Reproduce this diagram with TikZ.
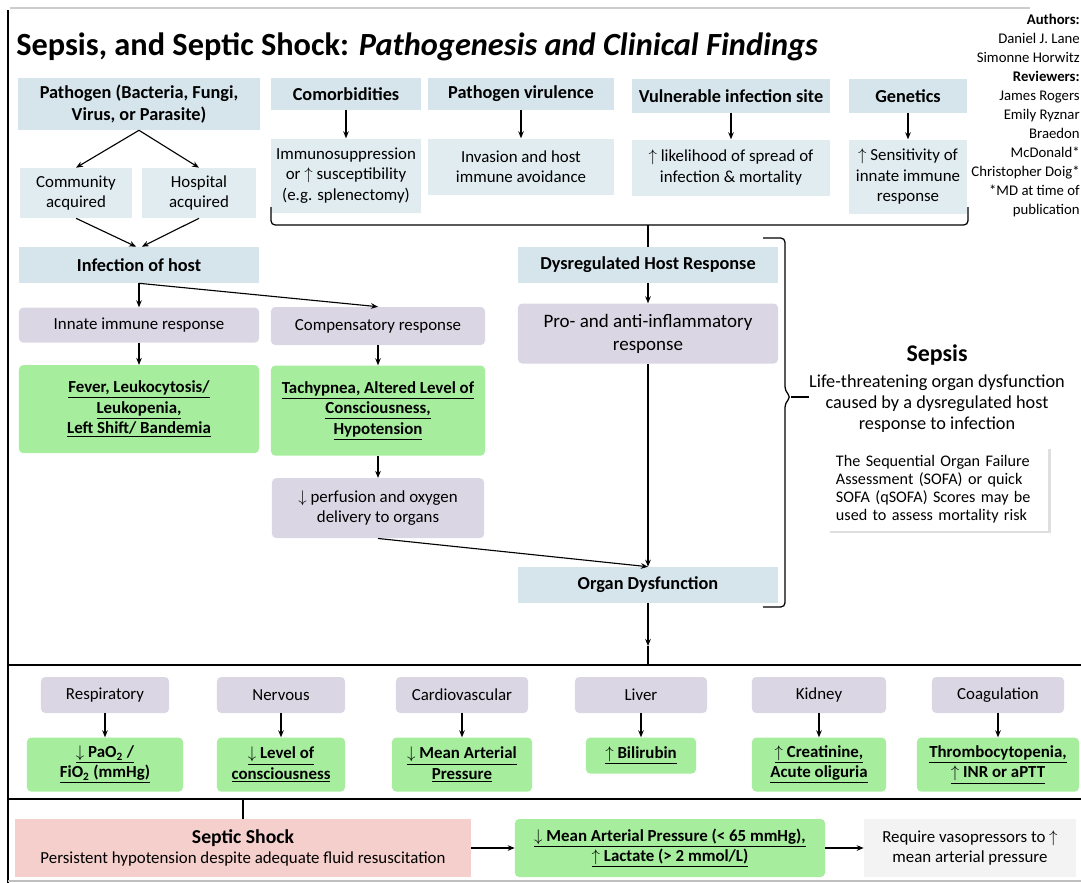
\documentclass[tikz,border=0pt]{standalone}
\usepackage{fontspec}
\setmainfont{Carlito}
\usepackage{xcolor}
\usepackage{tikz}
\usetikzlibrary{arrows.meta,positioning,shadows}
\definecolor{spblue}{RGB}{214,229,236}
\definecolor{spblue2}{RGB}{225,236,241}
\definecolor{splav}{RGB}{219,214,228}
\definecolor{spgreen}{RGB}{166,238,158}
\definecolor{sppink}{RGB}{244,207,203}
\definecolor{spgray}{RGB}{243,243,243}
\tikzset{
  sp_head/.style={
    rectangle, fill=spblue, align=center,
    font=\fontsize{13}{15.5}\selectfont\bfseries, inner sep=2pt
  },
  sp_info/.style={
    rectangle, fill=spblue2, align=center, inner sep=2pt
  },
  sp_lav/.style={
    rectangle, rounded corners=3pt, fill=splav, align=center, inner sep=2pt
  },
  sp_green/.style={
    rectangle, rounded corners=3pt, fill=spgreen, align=center,
    font=\bfseries, inner sep=2pt
  },
  sp_arr/.style={-{Stealth[length=5pt,width=4pt]}, line width=0.8pt},
  sp_brk/.style={line width=0.9pt, rounded corners=3pt},
}
\begin{document}
\fontsize{12}{14.5}\selectfont
\begin{tikzpicture}[x=0.025cm, y=-0.025cm]
\useasboundingbox (0,0) rectangle (1081,883);

% Frame
\draw[line width=1.2pt] (8,10) -- (8,883);
\draw[gray!40, line width=1pt] (10,8) -- (1030,8);
\draw[gray!50, line width=0.8pt] (8,881) -- (1081,881);

% Title and credits
\node[anchor=base west, inner sep=0pt, font=\fontsize{23}{26}\selectfont\bfseries] (title) at (16,55)
  {Sepsis, and Septic Shock: \textit{Pathogenesis and Clinical Findings}};
\node[anchor=north east, align=right, inner sep=0pt, font=\fontsize{10.5}{13.5}\selectfont] (credits) at (1080,14)
  {\textbf{Authors:}\\Daniel J. Lane\\Simonne Horwitz\\\textbf{Reviewers:}\\James Rogers\\Emily Ryznar\\Braedon\\McDonald*\\Christopher Doig*\\*MD at time of\\publication};

% Risk factors
\node[sp_head, minimum width=6.05cm, minimum height=1.3cm] (pathogen) at (139,104) {Pathogen (Bacteria, Fungi,\\Virus, or Parasite)};
\node[sp_head, minimum width=3.75cm, minimum height=0.8cm] (comorb) at (346,94) {Comorbidities};
\node[sp_head, minimum width=4.65cm, minimum height=0.8cm] (virul)  at (521,94) {Pathogen virulence};
\node[sp_head, minimum width=4.95cm, minimum height=0.85cm] (site)  at (731,96) {Vulnerable infection site};
\node[sp_head, minimum width=2.95cm, minimum height=0.85cm] (genet) at (908,96) {Genetics};

\node[sp_info, minimum width=3.75cm, minimum height=1.85cm, below=0.7cm of comorb] (immuno) {Immunosuppression\\or $\uparrow$ susceptibility\\(e.g. splenectomy)};
\node[sp_info, minimum width=4.65cm, minimum height=1.4cm,  below=0.7cm of virul]  (invas)  {Invasion and host\\immune avoidance};
\node[sp_info, minimum width=4.95cm, minimum height=1.4cm,  below=0.65cm of site]  (likely) {$\uparrow$ likelihood of spread of\\infection \& mortality};
\node[sp_info, minimum width=2.95cm, minimum height=1.85cm, below=0.65cm of genet] (sensit) {$\uparrow$ Sensitivity of\\innate immune\\response};

\node[sp_info, minimum width=2.8cm,  minimum height=1.25cm] (commun) at (76,193)  {Community\\acquired};
\node[sp_info, minimum width=2.85cm, minimum height=1.25cm] (hosp)   at (199,193) {Hospital\\acquired};

% Host side
\node[sp_head, minimum width=6cm, minimum height=0.9cm] (infect) at (139,265) {Infection of host};
\node[sp_lav,  minimum width=6cm, minimum height=0.875cm, below=0.6cm of infect] (innate) {Innate immune response};
\node[sp_green, minimum width=6cm, minimum height=2.2cm, below=0.55cm of innate] (fever)
  {\underline{Fever, Leukocytosis/}\\\underline{Leukopenia,}\\\underline{Left Shift/ Bandemia}};
\node[sp_lav,  minimum width=5.35cm, minimum height=0.95cm] (compens) at (378,326) {Compensatory response};
\node[sp_green, minimum width=5.35cm, minimum height=2.25cm, below=0.5cm of compens] (tachy)
  {\underline{Tachypnea, Altered Level of}\\\underline{Consciousness,}\\\underline{Hypotension}};
\node[sp_lav,  minimum width=5.3cm, minimum height=1.5cm, below=0.55cm of tachy] (perfus) {$\downarrow$ perfusion and oxygen\\delivery to organs};

\node[sp_head, minimum width=6.5cm, minimum height=0.9cm] (dysreg) at (648,265) {Dysregulated Host Response};
\node[sp_lav,  minimum width=6.5cm, minimum height=1.5cm, below=0.5cm of dysreg,
      font=\fontsize{13.5}{16.5}\selectfont] (proanti) {Pro- and anti-inflammatory\\response};
\node[sp_head, minimum width=6.5cm, minimum height=0.9cm] (organ) at (648,585) {Organ Dysfunction};

% Sepsis definition
\node[inner sep=0pt, font=\fontsize{17}{20}\selectfont\bfseries] (sepsis) at (937,355) {Sepsis};
\node[inner sep=0pt, align=center, font=\fontsize{13}{15}\selectfont] (sepdef) at (937,404)
  {Life-threatening organ dysfunction\\caused by a dysregulated host\\response to infection};
\node[fill=white, drop shadow={shadow xshift=1.5pt, shadow yshift=-1.5pt, opacity=0.25},
      text width=5.1cm, align=left, inner sep=6pt, font=\fontsize{11.5}{12.8}\selectfont] (sofa) at (938,489)
  {The Sequential Organ Failure\\Assessment (SOFA) or quick\\SOFA (qSOFA) Scores may be\\used to assess mortality risk};

% Organ systems
\node[sp_lav, minimum width=3.2cm,  minimum height=0.9cm] (resp)   at (105,695) {Respiratory};
\node[sp_lav, minimum width=3.2cm,  minimum height=0.9cm] (nerv)   at (281,695) {Nervous};
\node[sp_lav, minimum width=3.3cm,  minimum height=0.9cm] (cardio) at (462,695) {Cardiovascular};
\node[sp_lav, minimum width=3.3cm,  minimum height=0.9cm] (liver)  at (641,695) {Liver};
\node[sp_lav, minimum width=3.35cm, minimum height=0.9cm] (kidney) at (819,695) {Kidney};
\node[sp_lav, minimum width=3.3cm,  minimum height=0.9cm] (coag)   at (998,695) {Coagulation};

\node[sp_green, minimum width=3.9cm,  minimum height=1.35cm, below=0.6cm of resp]   (respF)   {\underline{$\downarrow$ PaO\textsubscript{2} /}\\\underline{FiO\textsubscript{2} (mmHg)}};
\node[sp_green, minimum width=3.2cm,  minimum height=1.35cm, below=0.6cm of nerv]   (nervF)   {\underline{$\downarrow$ Level of}\\\underline{consciousness}};
\node[sp_green, minimum width=3.5cm,  minimum height=1.35cm, below=0.6cm of cardio] (cardioF) {\underline{$\downarrow$ Mean Arterial}\\\underline{Pressure}};
\node[sp_green, minimum width=2.75cm, minimum height=0.9cm,  below=0.6cm of liver]  (liverF)  {\underline{$\uparrow$ Bilirubin}};
\node[sp_green, minimum width=3.35cm, minimum height=1.35cm, below=0.6cm of kidney] (kidneyF) {\underline{$\uparrow$ Creatinine,}\\\underline{Acute oliguria}};
\node[sp_green, minimum width=4.05cm, minimum height=1.35cm, below=0.6cm of coag]   (coagF)   {\underline{Thrombocytopenia,}\\\underline{$\uparrow$ INR or aPTT}};

% Septic shock
\node[rectangle, fill=sppink, align=center, inner sep=2pt, minimum width=11.4cm, minimum height=1.45cm] (septic) at (243,848)
  {{\fontsize{14}{16}\selectfont\bfseries Septic Shock}\\Persistent hypotension despite adequate fluid resuscitation};
\node[sp_green, minimum width=7.75cm, minimum height=1.45cm] (mapF) at (670,848)
  {\underline{$\downarrow$ Mean Arterial Pressure (< 65 mmHg),}\\\underline{$\uparrow$ Lactate (> 2 mmol/L)}};
\node[rectangle, fill=spgray, align=center, inner sep=2pt, minimum width=5.3cm, minimum height=1.45cm] (vaso) at (970,848)
  {Require vasopressors to $\uparrow$\\mean arterial pressure};

% Brackets
\coordinate (topbrk) at (648,225);
\coordinate (sepbrk) at (791,397);
\coordinate (orgbrk) at (648,646);
\coordinate (shockbrk) at (243,799);
\draw[sp_brk] (271,207) -- (271,225) -- (968,225) -- (968,207);
\draw[sp_brk] (topbrk) -- (dysreg.north);
\draw[sp_brk] (763,238) -- (785,238) -- (785,391) -- (sepbrk) -- (785,403) -- (785,607) -- (763,607);
\draw[sp_brk] (sepbrk) -- (sepbrk -| sepdef.west);
\draw[sp_brk] (8,665) -- (1081,665);
\draw[sp_brk] (orgbrk) -- (648,665);
\draw[sp_brk] (8,799) -- (1081,799);
\draw[sp_brk] (shockbrk) -- (septic.north);

% Flow
\draw[sp_arr] (pathogen.south) -- (commun.north);
\draw[sp_arr] (pathogen.south) -- (hosp.north);
\draw[sp_arr] (commun.south) -- ([xshift=-2pt]infect.north);
\draw[sp_arr] (hosp.south) -- ([xshift=2pt]infect.north);
\draw[sp_arr] (comorb) -- (immuno);
\draw[sp_arr] (virul) -- (invas);
\draw[sp_arr] (site) -- (likely);
\draw[sp_arr] (genet) -- (sensit);
\draw[sp_arr] (infect.south) -- (innate.north);
\draw[sp_arr] (infect.south) -- (compens.north);
\draw[sp_arr] (innate) -- (fever);
\draw[sp_arr] (compens) -- (tachy);
\draw[sp_arr] (tachy) -- (perfus);
\draw[sp_arr] (dysreg) -- (proanti);
\draw[sp_arr] (proanti.south) -- (organ.north);
\draw[sp_arr] (perfus.south) -- (organ.north);
\draw[sp_arr] (organ.south) -- (orgbrk);
\foreach \sys in {resp,nerv,cardio,liver,kidney,coag}
  \draw[sp_arr] (\sys) -- (\sys F);
\draw[sp_arr] (septic) -- (mapF);
\draw[sp_arr] (mapF) -- (vaso);

\end{tikzpicture}
\end{document}
